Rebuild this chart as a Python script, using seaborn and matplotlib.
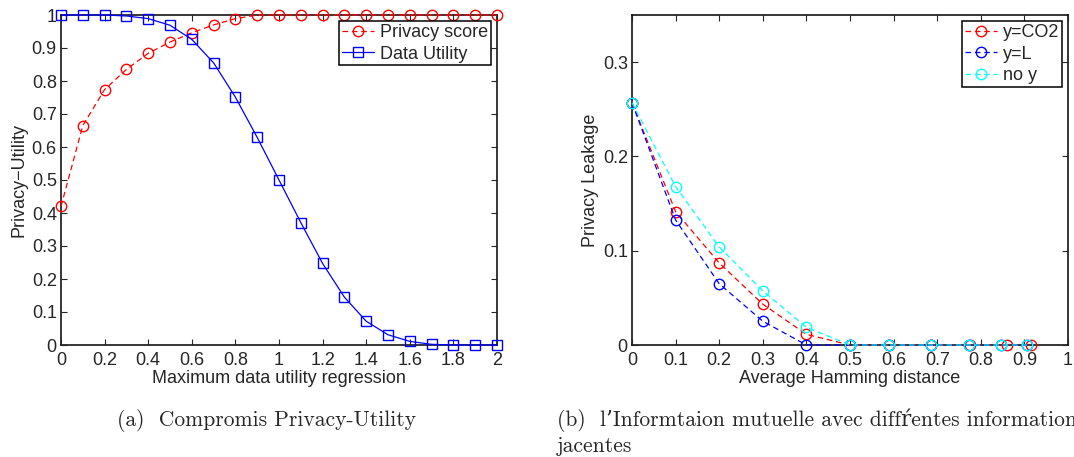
import numpy as np
import pandas as pd
import matplotlib
matplotlib.use("Agg")
import matplotlib.pyplot as plt
import seaborn as sns

# --- DATA ---
regression = np.round(np.arange(0, 2.01, 0.1), 1)
privacy_score = [0.42, 0.665, 0.774, 0.835, 0.884, 0.918, 0.946, 0.970, 0.989,
                 1, 1, 1, 1, 1, 1, 1, 1, 1, 1, 1, 1]
data_utility = [1, 1, 1, 0.997, 0.989, 0.969, 0.926, 0.855, 0.751, 0.629, 0.5,
                0.371, 0.247, 0.145, 0.072, 0.031, 0.011, 0.002, 0, 0, 0]

hamming_co2 = [0, 0.1, 0.2, 0.3, 0.4, 0.5, 0.59, 0.685, 0.775, 0.86, 0.915]
leak_co2 = [0.257, 0.1415, 0.087, 0.0433, 0.0113, 0, 0, 0, 0, 0, 0]
hamming_l = [0, 0.1, 0.2, 0.3, 0.4, 0.5, 0.59, 0.685, 0.773, 0.847, 0.907]
leak_l = [0.257, 0.1326, 0.065, 0.0252, 0, 0, 0, 0, 0, 0, 0]
hamming_noy = [0, 0.1, 0.2, 0.3, 0.4, 0.5, 0.59, 0.685, 0.773, 0.847, 0.907]
leak_noy = [0.257, 0.168, 0.104, 0.0574, 0.0188, 0, 0, 0, 0, 0, 0]

caption_a = "(a)  Compromis Privacy-Utility"
caption_b = "(b)  l\u2019Informtaion mutuelle avec diff\u0155entes information"
caption_b2 = "jacentes"

# --- STYLE ---
sns.set_style("ticks", {"xtick.direction": "in", "ytick.direction": "in"})
plt.rcParams["font.family"] = ["Liberation Sans", "DejaVu Sans"]
plt.rcParams["font.size"] = 13
plt.rcParams["axes.linewidth"] = 1.1

fig = plt.figure(figsize=(10.74, 4.57), dpi=100)
ax1 = fig.add_axes([61 / 1074, 112 / 457, 436 / 1074, 330 / 457])
ax2 = fig.add_axes([632 / 1074, 112 / 457, 436 / 1074, 330 / 457])

dash = (0, (4.5, 3))


def draw(ax, x, y, color, ls, marker, label):
    sns.lineplot(x=x, y=y, ax=ax, color=color, linestyle=ls, marker=marker,
                 label=label, linewidth=0.9, markersize=7.5,
                 markerfacecolor="none", markeredgecolor=color,
                 markeredgewidth=1.0, clip_on=False)


# --- LEFT: privacy vs utility ---
draw(ax1, regression, privacy_score, "red", dash, "o", "Privacy score")
draw(ax1, regression, data_utility, "blue", "-", "s", "Data Utility")
ax1.set_xlim(0, 2)
ax1.set_ylim(0, 1)
ax1.set_xticks(np.round(np.arange(0, 2.01, 0.2), 1))
ax1.set_xticklabels(["0", "0.2", "0.4", "0.6", "0.8", "1", "1.2", "1.4", "1.6", "1.8", "2"])
ax1.set_yticks(np.round(np.arange(0, 1.01, 0.1), 1))
ax1.set_yticklabels(["0", "0.1", "0.2", "0.3", "0.4", "0.5", "0.6", "0.7", "0.8", "0.9", "1"])
ax1.set_xlabel("Maximum data utility regression", labelpad=1)
ax1.set_ylabel("Privacy\u2212Utility", labelpad=3)

# --- RIGHT: privacy leakage ---
draw(ax2, hamming_co2, leak_co2, "red", dash, "o", "y=CO2")
draw(ax2, hamming_l, leak_l, "blue", dash, "o", "y=L")
draw(ax2, hamming_noy, leak_noy, "cyan", dash, "o", "no y")
ax2.set_xlim(0, 1)
ax2.set_ylim(0, 0.35)
ax2.set_xticks(np.round(np.arange(0, 1.01, 0.1), 1))
ax2.set_xticklabels(["0", "0.1", "0.2", "0.3", "0.4", "0.5", "0.6", "0.7", "0.8", "0.9", "1"])
ax2.set_yticks([0, 0.1, 0.2, 0.3])
ax2.set_yticklabels(["0", "0.1", "0.2", "0.3"])
ax2.set_xlabel("Average Hamming distance", labelpad=1)
ax2.set_ylabel("Privacy Leakage", labelpad=3)

for ax in (ax1, ax2):
    leg = ax.legend(loc="upper right", numpoints=1, fancybox=False, edgecolor="black",
                    framealpha=1, borderaxespad=0.35, handlelength=1.8,
                    handletextpad=0.3, borderpad=0.15, labelspacing=0.25,
                    fontsize=13)
    leg.get_frame().set_linewidth(1.1)
    ax.tick_params(top=True, right=True, direction="in", length=4.5,
                   labelsize=13)
    ax.tick_params(axis="x", pad=5)
    ax.tick_params(axis="y", pad=3)
    for sp in ax.spines.values():
        sp.set_visible(True)
        sp.set_color("black")
        sp.set_zorder(0.5)

# --- CAPTIONS ---
serif = ["cmr10", "DejaVu Serif"]
fig.text(117 / 1074, 1 - 420 / 457, caption_a, family=serif, fontsize=15.5, va="center")
fig.text(557 / 1074, 1 - 420 / 457, caption_b, family=serif, fontsize=15.5, va="center")
fig.text(557 / 1074, 1 - 446 / 457, caption_b2, family=serif, fontsize=15.5, va="center")

fig.savefig("out.png", dpi=100)
